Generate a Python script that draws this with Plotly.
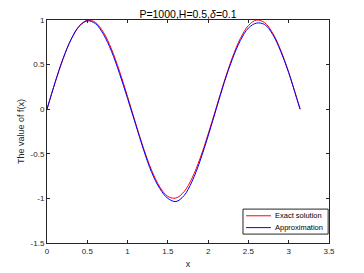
import plotly.graph_objects as go

x_vals = [0, 0.1, 0.2, 0.3, 0.4, 0.5, 0.6, 0.7, 0.8, 0.9, 1.0, 1.1, 1.2, 1.3, 1.4, 1.5,
          1.6, 1.7, 1.8, 1.9, 2.0, 2.1, 2.2, 2.3, 2.4, 2.5, 2.6, 2.7, 2.8, 2.9, 3.0, 3.1, 3.1416]
exact = [0, 0.296, 0.565, 0.783, 0.932, 0.997, 0.974, 0.863, 0.675, 0.427, 0.141, -0.158,
         -0.443, -0.688, -0.872, -0.978, -0.996, -0.926, -0.773, -0.551, -0.279, 0.017,
         0.312, 0.578, 0.793, 0.938, 0.999, 0.971, 0.855, 0.663, 0.412, 0.124, 0]
approx = [0, 0.30, 0.57, 0.785, 0.93, 0.99, 0.96, 0.84, 0.65, 0.40, 0.12, -0.17,
          -0.46, -0.71, -0.89, -1.00, -1.035, -0.97, -0.81, -0.58, -0.30, 0.00,
          0.30, 0.56, 0.77, 0.91, 0.965, 0.95, 0.84, 0.65, 0.41, 0.12, 0]

x_ticks = [0, 0.5, 1, 1.5, 2, 2.5, 3, 3.5]
y_ticks = [-1.5, -1, -0.5, 0, 0.5, 1]
series_names = ["Exact solution", "Approximation"]
series_colors = ["#ff0000", "#0000ff"]

fig = go.Figure()
for name, ys, col in zip(series_names, [exact, approx], series_colors):
    fig.add_trace(go.Scatter(x=x_vals, y=ys, mode="lines", name=name, showlegend=False,
                             line=dict(color=col, width=1, shape="spline", smoothing=1)))

axis_common = dict(showgrid=False, zeroline=False, showline=True, linecolor="#262626",
                   linewidth=1, mirror="ticks", ticks="inside", ticklen=3,
                   tickcolor="#262626", tickfont=dict(size=8, color="#262626"),
                   automargin=False)

# MATLAB-style compact legend box (paper coordinates)
shapes = [dict(type="rect", xref="paper", yref="paper", x0=0.695, x1=0.997, y0=0.040, y1=0.152,
               line=dict(color="#262626", width=1), fillcolor="white", layer="above")]
annotations = []
legend_rows = [0.122, 0.069]
for name, col, yy in zip(series_names, series_colors, legend_rows):
    shapes.append(dict(type="line", xref="paper", yref="paper", x0=0.706, x1=0.794, y0=yy, y1=yy,
                       line=dict(color=col, width=1), layer="above"))
    annotations.append(dict(text=name, xref="paper", yref="paper", x=0.803, y=yy,
                            xanchor="left", yanchor="middle", showarrow=False,
                            font=dict(size=7.5, color="#000000")))

fig.update_layout(
    width=364, height=273,
    margin=dict(l=47, r=35, t=20, b=30),
    paper_bgcolor="white", plot_bgcolor="white",
    font=dict(family="Liberation Sans, Arial, sans-serif", color="#262626"),
    title=dict(text="P=1000,H=0.5,<i>δ</i>=0.1", x=0.5, xref="paper", xanchor="center",
               y=1, yref="paper", yanchor="bottom", pad=dict(b=2),
               font=dict(size=10.5, color="#000000")),
    xaxis=dict(range=[0, 3.5], tickvals=x_ticks, ticktext=[str(t) for t in x_ticks],
               title=dict(text="x", font=dict(size=9), standoff=6), **axis_common),
    yaxis=dict(range=[-1.5, 1], tickvals=y_ticks, ticktext=[str(t) for t in y_ticks],
               title=dict(text="The value of f(x)", font=dict(size=9), standoff=4),
               **axis_common),
    shapes=shapes,
    annotations=annotations,
    showlegend=False,
)

fig.write_html("out.html", config={"displayModeBar": False},
               post_script="document.body.style.margin='0';")
